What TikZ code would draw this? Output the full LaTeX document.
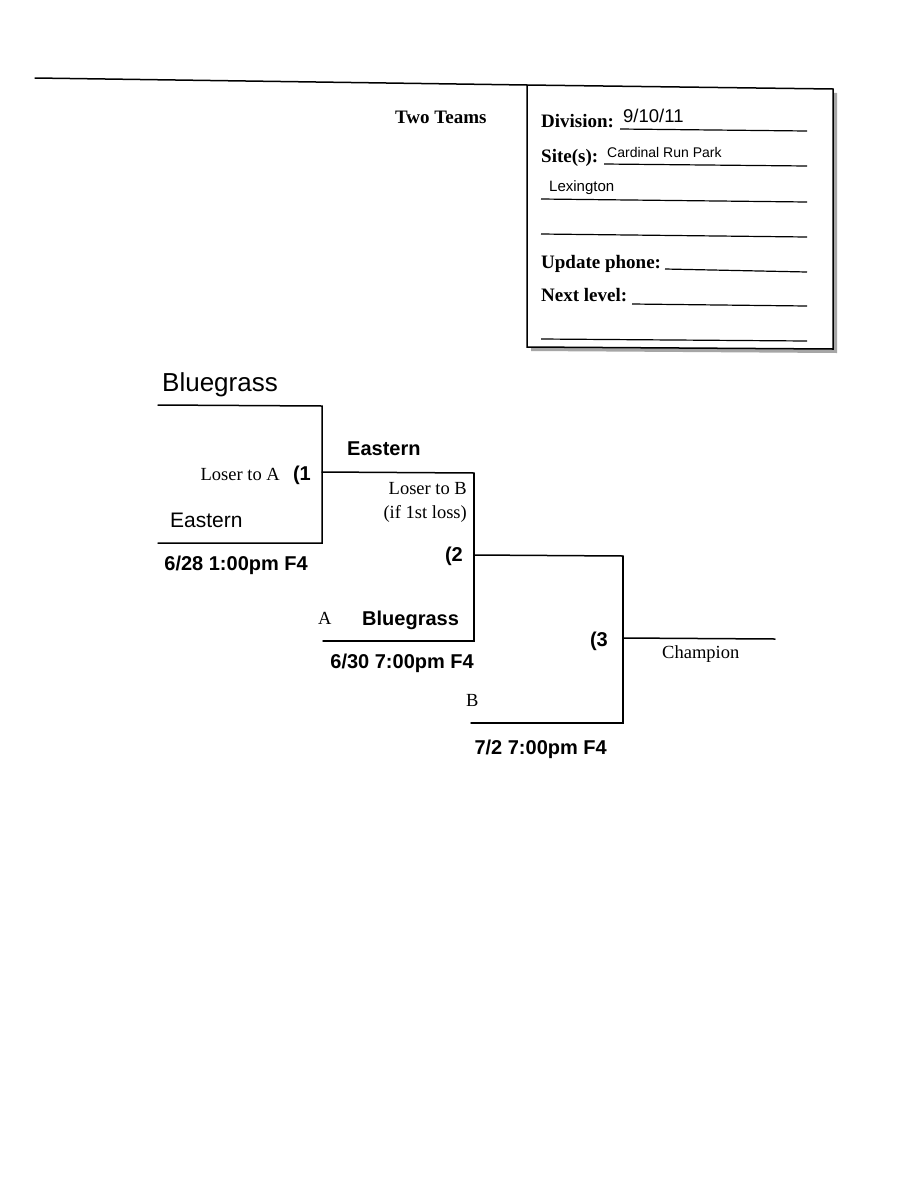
\documentclass[tikz,border=0pt]{standalone}
\usepackage{fontspec}
\setmainfont{Liberation Serif}
\newfontfamily\arialf{Liberation Sans}
\newfontfamily\timesf{Liberation Serif}
\newcommand{\fsz}[1]{\fontsize{#1}{#1}\selectfont}
\begin{document}
\begin{tikzpicture}[x=1pt,y=-1pt,
  ln/.style={line width=1.5pt, line cap=round},
  fl/.style={line width=1.2pt},
  frm/.style={inner sep=0pt, anchor=base west, font=\timesf\bfseries\fsz{19}},
  hand/.style={inner sep=0pt, anchor=base west, font=\arialf\fsz{#1}},
  team/.style={inner sep=0pt, anchor=base west, font=\arialf\bfseries\fsz{20}},
  tms/.style={inner sep=0pt, anchor=base east, font=\timesf\fsz{18.5}},
  gm/.style={inner sep=0pt, anchor=base east, font=\arialf\bfseries\fsz{20}}]
\useasboundingbox[fill=white] (0,0) rectangle (924,1200);

% header line and form box
\coordinate (hl) at (35,78);
\coordinate (boxtl) at (527,85);
\coordinate (boxtr) at (833,89);
\coordinate (boxbr) at (833,349);
\coordinate (boxbl) at (527,347);
\fill[gray!70] (531,89) -- (837,93) -- (837,353) -- (531,351) -- cycle;
\draw[ln, fill=white] (boxtl) -- (boxtr) -- (boxbr) -- (boxbl) -- cycle;
\draw[ln] (hl) -- (boxtl);

\node[frm] (twoteams) at (395,123) {Two Teams};

\node[frm] (div) at (541,127) {Division:};
\coordinate (d1) at (620,129); \coordinate (d2) at (807,131);
\draw[fl] (d1) -- (d2);
\node[hand=18.5] (divv) at (623,122) {9/10/11};

\node[frm] (site) at (541,162) {Site(s):};
\coordinate (s1) at (604,164); \coordinate (s2) at (807,166);
\draw[fl] (s1) -- (s2);
\node[hand=14] (sitev) at (607,157) {Cardinal Run Park};

\node[hand=15] (lex) at (549,191) {Lexington};
\coordinate (l1) at (541,199); \coordinate (l2) at (807,202);
\draw[fl] (l1) -- (l2);

\coordinate (b1) at (541,234); \coordinate (b2) at (807,237);
\draw[fl] (b1) -- (b2);

\node[frm] (upd) at (541,268) {Update phone:};
\coordinate (u1) at (665,269); \coordinate (u2) at (807,272);
\draw[fl] (u1) -- (u2);

\node[frm] (next) at (541,301) {Next level:};
\coordinate (n1) at (632,304); \coordinate (n2) at (807,306);
\draw[fl] (n1) -- (n2);

\coordinate (e1) at (541,339); \coordinate (e2) at (807,341);
\draw[fl] (e1) -- (e2);

% bracket game 1
\node[hand=26] (blue1) at (162,391) {Bluegrass};
\node[hand=21] (east1) at (170,527) {Eastern};
\coordinate (g1t0) at (158,405); \coordinate (g1t) at (322,406);
\coordinate (g1b0) at (158,543); \coordinate (g1b) at (322,543);
\coordinate (g1o) at (322,472); \coordinate (g2t) at (474,473);
\draw[ln] (g1t0) -- (g1t) -- (g1b) -- (g1b0);
\node[tms] (lta) at (280,480) {Loser to A};
\node[gm] (n1g) at (311,480) {(1};
\node[gm] (d628) at (308,570) {6/28 1:00pm F4};

% game 2
\node[team] (east2) at (347,455) {Eastern};
\draw[ln] (g1o) -- (g2t);
\node[tms] (ltb) at (467,494) {Loser to B};
\node[tms] (ifl) at (467,518) {(if 1st loss)};
\coordinate (g2o) at (474,555); \coordinate (g3t) at (623,556);
\coordinate (g2b) at (474,641); \coordinate (g2b0) at (323,641);
\draw[ln] (g2t) -- (g2b) -- (g2b0);
\node[gm] (n2g) at (463,561) {(2};
\node[tms, anchor=base west] (la) at (318,624) {A};
\node[team] (blue2) at (362,625) {Bluegrass};
\node[gm] (d630) at (474,668) {6/30 7:00pm F4};

% game 3
\draw[ln] (g2o) -- (g3t);
\coordinate (g3b) at (623,723); \coordinate (g3b0) at (471,723);
\draw[ln] (g3t) -- (g3b) -- (g3b0);
\coordinate (g3o) at (623,638); \coordinate (champ) at (775,639);
\draw[ln] (g3o) -- (champ);
\node[gm] (n3g) at (608,646) {(3};
\node[tms, anchor=base west] (chl) at (662,658) {Champion};
\node[tms, anchor=base west] (lb) at (466,706) {B};
\node[gm] (d72) at (607,754) {7/2 7:00pm F4};
\end{tikzpicture}
\end{document}
